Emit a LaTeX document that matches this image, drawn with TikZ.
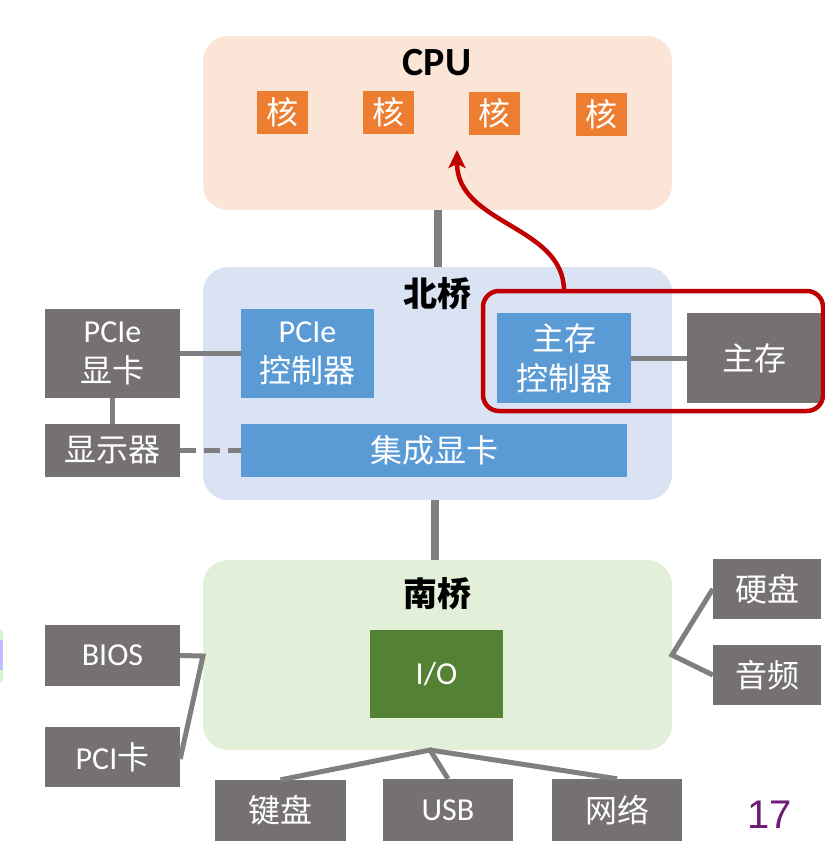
\documentclass[tikz,border=0pt]{standalone}
\usepackage{fontspec}
\setmainfont{Carlito}
\newfontfamily\cjk{Noto Sans CJK SC}
\newfontfamily\arialf{Liberation Sans}
\usetikzlibrary{arrows.meta}
\definecolor{cpufill}{HTML}{FBE5D6}
\definecolor{nbfill}{HTML}{DAE3F3}
\definecolor{sbfill}{HTML}{E2F0D9}
\definecolor{corefill}{HTML}{ED7D31}
\definecolor{bluebox}{HTML}{5B9BD5}
\definecolor{graybox}{HTML}{767171}
\definecolor{iofill}{HTML}{548235}
\definecolor{wire}{HTML}{7F7F7F}
\definecolor{redline}{HTML}{C00000}
\definecolor{pagenum}{HTML}{6E1A76}
\begin{document}
\begin{tikzpicture}[x=1pt,y=-1pt,
  region/.style={draw=none, rounded corners=25pt, inner sep=0pt},
  boxbase/.style={draw=none, inner sep=0pt, text=white, align=center, font=\fontsize{32}{40}\selectfont},
  corebox/.style={boxbase, fill=corefill, minimum width=51pt, minimum height=43pt},
  bluebx/.style={boxbase, fill=bluebox},
  graybx/.style={boxbase, fill=graybox},
  titletext/.style={inner sep=0pt, font=\fontsize{34}{34}\selectfont\bfseries},
  bus/.style={draw=wire, line width=8pt},
  link/.style={draw=wire, line width=5pt},
  dlink/.style={draw=wire, line width=5pt, dash pattern=on 16pt off 8pt},
]
\useasboundingbox (0,0) rectangle (825,855);

% left edge fragment
\fill[sbfill!80!green!60] (0,630) rectangle (2.5,682);
\fill[blue!25] (0,640) rectangle (2.5,670);

% regions
\node[region, fill=cpufill, minimum width=469pt, minimum height=174pt] (cpu) at (437.5,123) {};
\node[region, fill=nbfill, minimum width=469pt, minimum height=233pt] (nb) at (437.5,383.5) {};
\node[region, fill=sbfill, minimum width=469pt, minimum height=190pt] (sb) at (437.5,655) {};

\node[titletext, font=\fontsize{40}{40}\selectfont\bfseries] (cputitle) at (437,63) {CPU};
\node[titletext] (nbtitle) at (437,294) {\cjk\bfseries 北桥};
\node[titletext] (sbtitle) at (437,594) {\cjk\bfseries 南桥};

% cores
\node[corebox] (core1) at (282.5,112) {\cjk 核};
\node[corebox] (core2) at (388.5,112) {\cjk 核};
\node[corebox] (core3) at (494.5,113.5) {\cjk 核};
\node[corebox] (core4) at (601,114) {\cjk 核};

% north bridge content
\node[bluebx, minimum width=133pt, minimum height=89pt] (pciectl) at (307.5,353.5) {PCIe\\{\cjk 控制器}};
\node[bluebx, minimum width=134pt, minimum height=90pt] (memctl) at (564,358) {{\cjk 主存}\\{\cjk 控制器}};
\node[graybx, minimum width=134pt, minimum height=90pt] (mem) at (754,358) {\cjk 主存};
\node[bluebx, minimum width=386pt, minimum height=53pt] (igpu) at (434,450.5) {\cjk 集成显卡};
\node[graybx, minimum width=135pt, minimum height=89pt] (pciegpu) at (112.5,353.5) {PCIe\\{\cjk 显卡}};
\node[graybx, minimum width=135pt, minimum height=53pt] (monitor) at (112.5,450.5) {\cjk 显示器};

% south bridge content
\node[boxbase, fill=iofill, minimum width=133pt, minimum height=88pt] (io) at (436.5,674) {I/O};
\node[graybx, minimum width=135pt, minimum height=61pt] (bios) at (112.5,655.5) {BIOS};
\node[graybx, minimum width=135pt, minimum height=60pt] (pcicard) at (112.5,757) {PCI{\cjk 卡}};
\node[graybx, minimum width=108pt, minimum height=60pt] (hdd) at (767,589) {\cjk 硬盘};
\node[graybx, minimum width=108pt, minimum height=60pt] (audio) at (767,675) {\cjk 音频};
\node[graybx, minimum width=131pt, minimum height=61pt] (kbd) at (280.5,810.5) {\cjk 键盘};
\node[graybx, minimum width=130pt, minimum height=62pt] (usb) at (448,810) {USB};
\node[graybx, minimum width=130pt, minimum height=62pt] (net) at (617,810) {\cjk 网络};

% buses
\draw[bus] (cpu.south) -- (nb.north);
\draw[bus] ([xshift=-3pt]nb.south) -- ([xshift=-3pt]sb.north);

% links
\draw[link] (pciegpu.east) -- (pciectl.west);
\draw[link] (pciegpu.south) -- (monitor.north);
\draw[dlink] (monitor.east) -- (igpu.west);
\draw[link] (memctl.east) -- (mem.west);

\coordinate (biosjoin) at (203,656);
\draw[link] (bios.east) -- (biosjoin) -- ([yshift=-2pt]pcicard.east);

\coordinate (rjoin) at (672,655);
\draw[link] (hdd.west) -- (rjoin) -- (audio.west);

\coordinate (bjoin) at (430,750);
\draw[link] (kbd.north) -- (bjoin) -- (usb.north);
\draw[link] (bjoin) -- (net.north);

% red highlight
\node[draw=redline, line width=4.5pt, rounded corners=16pt, inner sep=0pt, minimum width=340pt, minimum height=120pt] (hl) at (653,351) {};
\coordinate (arrstart) at (564,291);
\coordinate (arrend) at (457,150);
\draw[draw=redline, line width=4.5pt, -{Stealth[length=18pt,width=17pt,inset=4pt]}] (arrstart) .. controls (564,225) and (457,225) .. (arrend);

% page number
\node[inner sep=0pt, text=pagenum, font=\arialf\fontsize{40}{40}\selectfont] (page) at (770,815) {17};
\end{tikzpicture}
\end{document}
